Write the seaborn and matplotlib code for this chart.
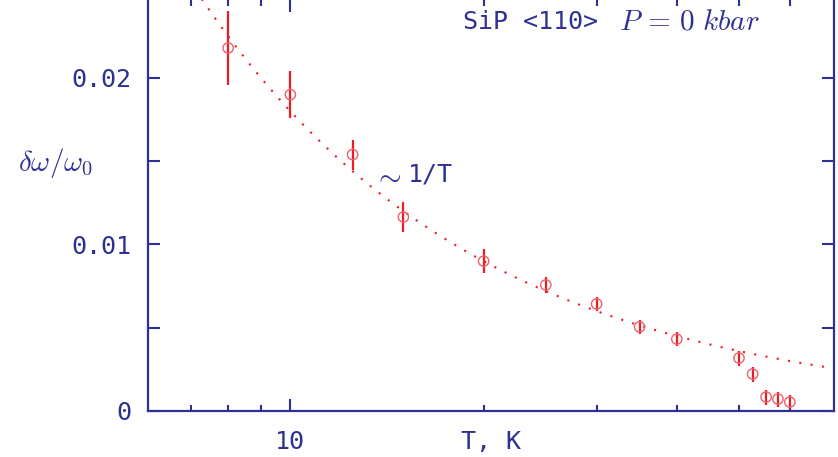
import numpy as np
import pandas as pd
import matplotlib
matplotlib.use("Agg")
import matplotlib.pyplot as plt
from matplotlib.ticker import FixedLocator, NullFormatter, FixedFormatter
import seaborn as sns

# Measured linewidth shift versus temperature
temperature_K = [8.0, 10.0, 12.5, 15.0, 20.0, 25.0, 30.0, 35.0, 40.0, 50.0, 52.5, 55.1, 57.5, 60.0]
delta_omega = [0.0218, 0.0190, 0.0154, 0.01165, 0.0090, 0.00757, 0.00643, 0.00505,
               0.00432, 0.00318, 0.00222, 0.00084, 0.00072, 0.00054]
delta_err = [0.0022, 0.0014, 0.0009, 0.0009, 0.0007, 0.0005, 0.0004, 0.0004,
             0.0004, 0.00045, 0.00045, 0.00045, 0.00045, 0.00042]

# ~1/T guide curve amplitude
inv_T_amplitude = 0.18

x_major_ticks = [10]
x_major_labels = ["10"]
x_minor_ticks = [7, 8, 9, 20, 30, 40, 50, 60]
y_ticks = [0, 0.005, 0.01, 0.015, 0.02, 0.025]
y_labels = ["0", "", "0.01", "", "0.02", ""]

NAVY = "#2e3192"
RED = "#ed1c24"

sns.set_theme(style="white")
plt.rcParams["font.family"] = ["DejaVu Sans Mono", "DejaVu Sans"]
plt.rcParams["mathtext.fontset"] = "cm"

W, H = 838, 457
fig = plt.figure(figsize=(W / 100, H / 100), dpi=100)
ax = fig.add_axes([148 / W, 46 / H, 686 / W, 411 / H])

df = pd.DataFrame({"T": temperature_K, "dw": delta_omega, "err": delta_err})

T_curve = np.geomspace(6, 70.3, 400)
curve = pd.DataFrame({"T": T_curve, "dw": inv_T_amplitude / T_curve})
sns.lineplot(data=curve, x="T", y="dw", ax=ax, color=RED, lw=1.5,
             linestyle=(0, (1, 4.5)), zorder=2)

ax.errorbar(df["T"], df["dw"], yerr=df["err"], fmt="none", ecolor=RED,
            elinewidth=1.6, capsize=0, zorder=3)
sns.scatterplot(data=df, x="T", y="dw", ax=ax, marker="o", s=55,
                facecolors="none", edgecolor="#f0606a", linewidth=1.0, zorder=4)

ax.set_xscale("log")
ax.set_xlim(6, 70.3)
ax.set_ylim(0, 0.02468)

ax.xaxis.set_major_locator(FixedLocator(x_major_ticks))
ax.xaxis.set_major_formatter(FixedFormatter(x_major_labels))
ax.xaxis.set_minor_locator(FixedLocator(x_minor_ticks))
ax.xaxis.set_minor_formatter(NullFormatter())
ax.yaxis.set_major_locator(FixedLocator(y_ticks))
ax.yaxis.set_major_formatter(FixedFormatter(y_labels))

ax.tick_params(axis="x", which="major", direction="in", length=8.6, width=1.5,
               color=NAVY, labelcolor=NAVY, labelsize=18, pad=14, top=True, bottom=True)
ax.tick_params(axis="x", which="minor", direction="in", length=4.3, width=1.5,
               color=NAVY, top=True, bottom=True)
ax.tick_params(axis="y", which="major", direction="in", length=8.6, width=1.5,
               color=NAVY, labelcolor=NAVY, labelsize=18, pad=12, left=True, right=True)

for side in ["left", "right", "bottom"]:
    ax.spines[side].set_visible(True)
    ax.spines[side].set_color(NAVY)
    ax.spines[side].set_linewidth(1.6)
ax.spines["top"].set_visible(False)

ax.set_xlabel("T, K", color=NAVY, fontsize=18)
ax.xaxis.set_label_coords(0.5, -0.047)
ax.xaxis.label.set_va("top")

ax.set_ylabel(r"$\delta\omega/\omega_0$", color=NAVY, fontsize=21, rotation=0)
ax.yaxis.set_label_coords(-0.135, 0.603)
ax.yaxis.label.set_va("center")
ax.yaxis.label.set_ha("center")

# Annotations placed in figure pixel coordinates (origin top-left)
def fig_text(px, py, s, **kw):
    fig.text(px / W, 1 - py / H, s, color=NAVY, va="center", ha="left", **kw)

fig_text(463, 22, "SiP <110>", fontsize=18)
fig_text(619, 22, r"$P\,=\,0\ kbar$", fontsize=21)
fig_text(373, 176, r"$\sim$", fontsize=21)
fig_text(408, 175, "1/T", fontsize=18)

fig.savefig("out.png", dpi=100)
